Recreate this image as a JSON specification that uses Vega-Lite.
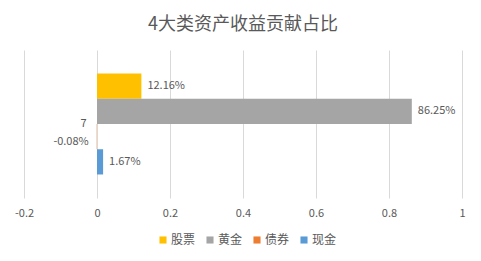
{
  "$schema": "https://vega.github.io/schema/vega-lite/v6.json",
  "autosize": {"type": "none"},
  "width": 438,
  "height": 148,
  "padding": {"left": 24, "top": 50, "right": 19, "bottom": 63},
  "background": "white",
  "title": {
    "text": "4大类资产收益贡献占比",
    "font": "Noto Sans CJK SC",
    "fontSize": 18,
    "fontWeight": "normal",
    "color": "#595959",
    "anchor": "middle",
    "offset": 16
  },
  "data": {
    "values": [
      {"cat": "7", "series": "股票", "value": 0.1216, "label": "12.16%"},
      {"cat": "7", "series": "黄金", "value": 0.8625, "label": "86.25%"},
      {"cat": "7", "series": "债券", "value": -0.0008, "label": "-0.08%"},
      {"cat": "7", "series": "现金", "value": 0.0167, "label": "1.67%"}
    ]
  },
  "encoding": {
    "y": {
      "field": "cat",
      "type": "nominal",
      "title": null,
      "scale": {"paddingInner": 0, "paddingOuter": 0.233},
      "axis": {
        "offset": -73,
        "domain": false,
        "ticks": false,
        "labelPadding": 11,
        "labelFont": "Noto Sans CJK SC",
        "labelFontSize": 11,
        "labelColor": "#595959",
        "labelBaseline": "middle",
        "labelOffset": 0,
        "grid": false
      }
    },
    "yOffset": {
      "field": "series",
      "type": "nominal",
      "sort": ["股票", "黄金", "债券", "现金"],
      "scale": {"paddingInner": 0, "paddingOuter": 0}
    },
    "x": {
      "field": "value",
      "type": "quantitative",
      "title": null,
      "scale": {"domain": [-0.2, 1], "nice": false, "zero": false},
      "axis": {
        "values": [-0.2, 0, 0.2, 0.4, 0.6, 0.8, 1],
        "labelExpr": "replace(format(datum.value, '~g'), '−', '-')",
        "domain": false,
        "ticks": false,
        "labelPadding": 9,
        "labelFont": "Noto Sans CJK SC",
        "labelFontSize": 11,
        "labelColor": "#595959",
        "gridColor": "#D9D9D9",
        "gridWidth": 1,
        "labelFlush": false
      }
    }
  },
  "layer": [
    {
      "mark": {"type": "bar"},
      "encoding": {
        "color": {
          "field": "series",
          "type": "nominal",
          "sort": ["股票", "黄金", "债券", "现金"],
          "scale": {
            "domain": ["股票", "黄金", "债券", "现金"],
            "range": ["#FFC000", "#A5A5A5", "#ED7D31", "#5B9BD5"]
          },
          "legend": {
            "title": null,
            "orient": "none",
            "legendX": 133,
            "legendY": 184,
            "direction": "horizontal",
            "symbolType": "square",
            "symbolSize": 50,
            "symbolStrokeWidth": 0,
            "labelFont": "Noto Sans CJK SC",
            "labelFontSize": 12,
            "labelColor": "#595959",
            "labelOffset": 2,
            "columnPadding": 8
          }
        }
      }
    },
    {
      "transform": [{"filter": "datum.value >= 0"}],
      "mark": {"type": "text", "align": "left", "dx": 6, "font": "Noto Sans CJK SC", "fontSize": 11, "color": "#595959"},
      "encoding": {
        "text": {"field": "label", "type": "nominal"}
      }
    },
    {
      "transform": [{"filter": "datum.value < 0"}],
      "mark": {"type": "text", "align": "right", "dx": -8, "dy": 5, "font": "Noto Sans CJK SC", "fontSize": 11, "color": "#595959"},
      "encoding": {
        "text": {"field": "label", "type": "nominal"}
      }
    }
  ],
  "config": {
    "view": {"stroke": null}
  }
}
